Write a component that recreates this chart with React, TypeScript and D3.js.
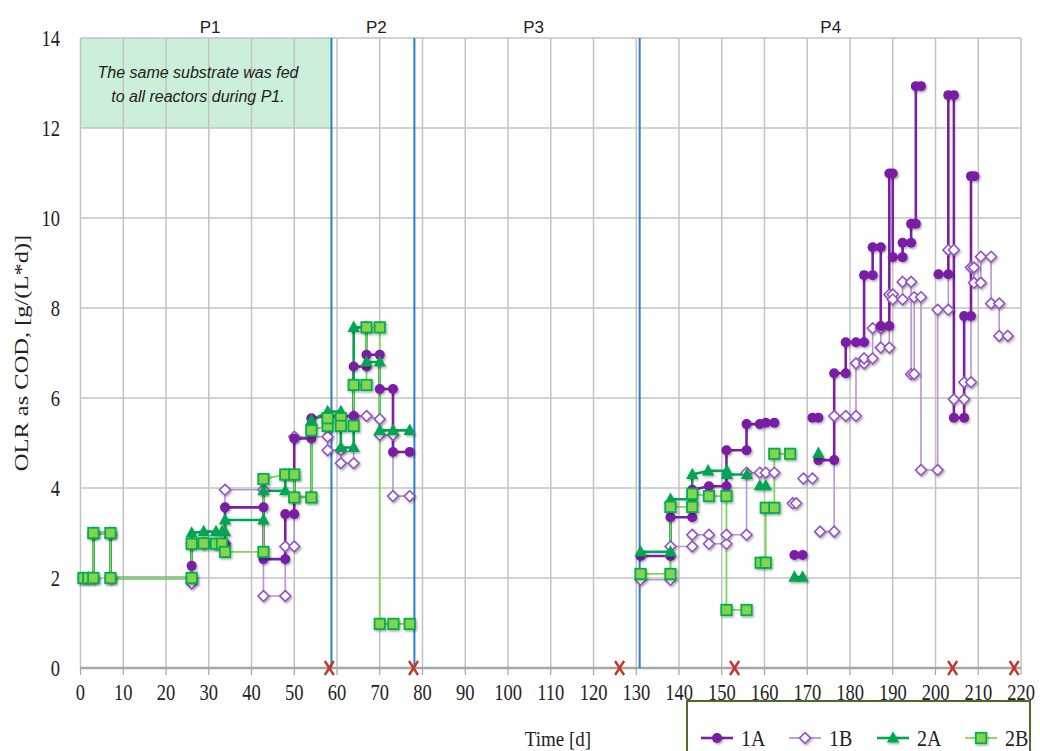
import React from 'react';
import * as d3 from 'd3';

type P = [number, number] | null;

const xTicks: number[] = [0, 10, 20, 30, 40, 50, 60, 70, 80, 90, 100, 110, 120, 130, 140, 150, 160, 170, 180, 190, 200, 210, 220];
const yTicks: number[] = [0, 2, 4, 6, 8, 10, 12, 14];

const periodBounds: number[] = [58.7, 78.1, 130.8];
const periodLabels: string[] = ['P1', 'P2', 'P3', 'P4'];
const periodLabelDays: number[] = [30.3, 69.2, 106, 175.5];
const failDays: number[] = [58.2, 77.9, 126.1, 153, 204, 218.4];

const s1A: P[] = [
  [0.7, 2], [1.8, 2], [3, 2], [3, 3], [7, 3], [7, 2], [26, 2], [26, 2.27], [26, 2.77], [28.8, 2.77], [31.7, 2.76], [33.1, 2.76],
  [33.8, 2.76], [33.8, 3.57], [42.8, 3.57], [42.8, 2.42], [47.9, 2.42], [47.9, 3.42], [50, 3.42], [50, 5.1], [54, 5.1],
  [54, 5.55], [57.8, 5.6], [60.9, 5.6], [63.9, 5.6], [63.9, 6.7], [66.9, 6.7], [66.9, 6.96], [70, 6.96], [70, 6.2],
  [73.1, 6.2], [73.1, 4.8], [77, 4.8], null,
  [131, 2.49], [138, 2.49], [138, 3.35], [143.1, 3.35], [143.1, 3.96], [147, 4.04], [151.1, 4.04], [151.1, 4.84],
  [155.8, 4.84], [155.8, 5.42], [158.9, 5.42], [160.3, 5.45], [162.3, 5.45], null,
  [167, 2.51], [168.9, 2.51], null,
  [171.2, 5.56], [172.6, 5.56], null,
  [172.6, 4.62], [176.3, 4.62], [176.3, 6.55], [179, 6.55], [179, 7.24], [181.4, 7.24], [183.3, 7.24], [183.3, 8.73],
  [185.3, 8.73], [185.3, 9.35], [187.2, 9.35], [187.2, 7.6], [189.2, 7.6], [189.2, 10.99], [190, 10.99], [190, 9.13],
  [192.3, 9.13], [192.3, 9.45], [194.3, 9.45], [194.3, 9.87], [195.4, 9.87], [195.4, 12.93], [196.6, 12.93], null,
  [200.7, 8.75], [203, 8.75], [203, 12.73], [204.3, 12.73], [204.3, 5.56], [206.7, 5.56], [206.7, 7.82], [208.3, 7.82],
  [208.3, 10.93], [209.1, 10.93],
];

const s1B: P[] = [
  [0.7, 2], [1.8, 2], [3, 2], [3, 3], [7, 3], [7, 2], [26, 2], [26, 1.88], [26, 2.77], [28.8, 2.77], [31.7, 2.76], [33.1, 2.76],
  [33.8, 2.76], [33.8, 3.96], [42.8, 3.96], [42.8, 1.6], [47.9, 1.6], [47.9, 2.7], [50, 2.7], [50, 5.14], [57.8, 5.14],
  [57.8, 4.84], [60.9, 4.84], [60.9, 4.55], [63.9, 4.55], [63.9, 5.6], [66.9, 5.6], [70, 5.53], [70, 5.18], [73.1, 5.18],
  [73.1, 3.82], [77, 3.82], null,
  [131, 1.96], [138, 1.96], [138, 2.7], [143.1, 2.7], [143.1, 2.96], [147, 2.96], [147, 2.76], [151.1, 2.76], [151.1, 2.96],
  [155.8, 2.96], [155.8, 4.34], [158.9, 4.34], [160.3, 4.34], [162.3, 4.34], null,
  [166.6, 3.66], [167.4, 3.66], null,
  [169.1, 4.21], [171.2, 4.21], null,
  [173, 3.03], [176.3, 3.03], [176.3, 5.6], [179, 5.6], [181.4, 5.6], [181.4, 6.77], [183.3, 6.77], [183.3, 6.88],
  [185.3, 6.88], [185.3, 7.55], [187.2, 7.55], [187.2, 7.12], [189.2, 7.12], [189.2, 8.3], [190, 8.3], [190, 8.19],
  [192.3, 8.19], [192.3, 8.58], [194.3, 8.58], [194.3, 6.53], [195, 6.53], [195, 8.24], [196.6, 8.24], [196.6, 4.4],
  [200.5, 4.4], [200.5, 7.96], [203, 7.96], [203, 9.29], [204.3, 9.29], [204.3, 5.97], [206.7, 5.97], [206.7, 6.35],
  [208.3, 6.35], [208.3, 8.9], [209, 8.9], [209, 8.56], [210.6, 8.56], [210.6, 9.14], [213, 9.14], [213, 8.1],
  [214.9, 8.1], [214.9, 7.38], [216.9, 7.38],
];

const s2A: P[] = [
  [0.7, 2], [1.8, 2], [3, 2], [3, 3], [7, 3], [7, 2], [26, 2], [26, 3.0], [28.8, 3.03], [31.7, 3.03], [33.1, 3.03],
  [33.8, 3.03], [33.8, 3.29], [42.8, 3.29], [42.8, 3.94], [47.9, 3.94], [47.9, 4.3], [50, 4.3], [50, 3.8], [54, 3.8],
  [54, 5.5], [57.8, 5.7], [60.9, 5.7], [60.9, 4.9], [63.9, 4.9], [63.9, 7.57], [66.9, 7.57], [66.9, 6.8], [70, 6.8],
  [70, 5.28], [73.1, 5.28], [77, 5.28], null,
  [131, 2.58], [138, 2.58], [138, 3.75], [143.1, 3.75], [143.1, 4.3], [146.8, 4.38], [151.2, 4.38], [151.2, 4.3],
  [155.9, 4.3], null,
  [158.9, 4.05], [160.3, 4.05], null,
  [167, 2.02], [168.9, 2.02], null,
  [172.6, 4.77],
];

const s2B: P[] = [
  [0.7, 2], [1.8, 2], [3, 2], [3, 3], [7, 3], [7, 2], [26, 2], [26, 2.76], [28.8, 2.77], [31.7, 2.76], [33.1, 2.76],
  [33.8, 2.58], [42.8, 2.58], [42.8, 4.2], [47.9, 4.3], [50, 4.3], [50, 3.79], [54, 3.79], [54, 5.28], [57.8, 5.38],
  [57.8, 5.55], [60.9, 5.55], [60.9, 5.38], [63.9, 5.38], [63.9, 6.29], [66.9, 6.29], [66.9, 7.57], [70, 7.57],
  [70, 0.98], [73.2, 0.98], [77, 0.98], null,
  [131, 2.09], [138, 2.09], [138, 3.58], [143.1, 3.58], [143.1, 3.87], [147, 3.82], [151.1, 3.82], [151.1, 1.29],
  [155.8, 1.29], null,
  [159.1, 2.34], [160.3, 2.34], [160.3, 3.56], [162.3, 3.56], [162.3, 4.76], [166, 4.76],
];

const seriesNames: string[] = ['1A', '1B', '2A', '2B'];

const C1A = '#7a1fa6';
const C1B_LINE = '#b994da';
const C1B_MARK = '#9452c4';
const C2A = '#00a651';
const C2B_LINE = '#7fd957';
const C2B_FILL = '#86d34f';
const C2B_STROKE = '#00b050';

function Marker({ kind, cx, cy }: { kind: string; cx: number; cy: number }) {
  if (kind === '1A') return <circle cx={cx} cy={cy} r={5} fill={C1A} />;
  if (kind === '1B')
    return (
      <path
        d={`M${cx},${cy - 5.4}L${cx + 5.4},${cy}L${cx},${cy + 5.4}L${cx - 5.4},${cy}Z`}
        fill="#fff"
        stroke={C1B_MARK}
        strokeWidth={1.6}
      />
    );
  if (kind === '2A')
    return <path d={`M${cx},${cy - 6.8}L${cx + 6.2},${cy + 4.6}L${cx - 6.2},${cy + 4.6}Z`} fill={C2A} />;
  return <rect x={cx - 5.2} y={cy - 5.2} width={10.4} height={10.4} fill={C2B_FILL} stroke={C2B_STROKE} strokeWidth={1.8} />;
}

export default function App() {
  const W = 1040;
  const H = 751;
  const x = d3.scaleLinear().domain([0, 220]).range([80.5, 1021]);
  const y = d3.scaleLinear().domain([0, 14]).range([668, 38]);
  const line = d3
    .line<P>()
    .defined((d) => d !== null)
    .x((d) => x((d as [number, number])[0]))
    .y((d) => y((d as [number, number])[1]));

  const serif = '"Liberation Serif", "Times New Roman", serif';
  const sans = '"Liberation Sans", Arial, sans-serif';

  const seriesDefs = [
    { name: '1B', data: s1B, color: C1B_LINE, width: 1.6 },
    { name: '1A', data: s1A, color: C1A, width: 2.6 },
    { name: '2A', data: s2A, color: C2A, width: 2.6 },
    { name: '2B', data: s2B, color: C2B_LINE, width: 1.8 },
  ];

  const legendX = [701, 789, 877, 965];
  const noteX = x(periodBounds[0] / 2) - 8;

  return (
    <svg width={W} height={H} style={{ position: 'absolute', left: 0, top: 0, background: '#fff' }}>
      <defs>
        <filter id="sh" x="-50%" y="-50%" width="200%" height="200%">
          <feDropShadow dx={1.2} dy={1.5} stdDeviation={1.1} floodColor="#000" floodOpacity={0.35} />
        </filter>
      </defs>
      <rect width={W} height={H} fill="#fff" />
      {/* note box */}
      <rect x={x(0)} y={y(14)} width={x(periodBounds[0]) - x(0)} height={y(12) - y(14)} fill="#cbefd8" />
      {/* grid */}
      {xTicks.map((t) => (
        <line key={'gx' + t} x1={x(t)} x2={x(t)} y1={y(14)} y2={y(0)} stroke="#c3c3c3" strokeWidth={1.5} />
      ))}
      {yTicks.map((t) => (
        <line key={'gy' + t} x1={x(0)} x2={x(220)} y1={y(t)} y2={y(t)} stroke="#c3c3c3" strokeWidth={1.5} />
      ))}
      {/* x axis */}
      <line x1={x(0)} x2={x(220)} y1={y(0)} y2={y(0)} stroke="#a6a6a6" strokeWidth={2.5} />
      {xTicks.map((t) => (
        <line key={'tk' + t} x1={x(t)} x2={x(t)} y1={y(0)} y2={y(0) + 7} stroke="#a6a6a6" strokeWidth={1.2} />
      ))}
      {xTicks.map((t) => (
        <text
          key={'xl' + t}
          transform={`translate(${x(t)},700) scale(1,1.28)`}
          textAnchor="middle"
          fontFamily={serif}
          fontSize={18.5}
          fill="#222"
        >
          {t}
        </text>
      ))}
      {yTicks.map((t) => (
        <text
          key={'yl' + t}
          transform={`translate(60,${y(t) + 8}) scale(1,1.28)`}
          textAnchor="end"
          fontFamily={serif}
          fontSize={18.5}
          fill="#222"
        >
          {t}
        </text>
      ))}
      <text
        transform={`translate(28,${y(7)}) rotate(-90) scale(1.36,1)`}
        textAnchor="middle"
        fontFamily={serif}
        fontSize={18}
        fill="#222"
      >
        OLR as COD, [g/(L*d)]
      </text>
      <text transform="translate(558,746) scale(1,1.15)" textAnchor="middle" fontFamily={serif} fontSize={19} fill="#222">
        Time [d]
      </text>
      {/* note text */}
      <text x={noteX} y={78} textAnchor="middle" fontFamily={sans} fontStyle="italic" fontSize={16} fill="#222">
        The same substrate was fed
      </text>
      <text x={noteX} y={102} textAnchor="middle" fontFamily={sans} fontStyle="italic" fontSize={16} fill="#222">
        to all reactors during P1.
      </text>
      {/* period boundaries */}
      {periodBounds.map((d) => (
        <line key={'pb' + d} x1={x(d)} x2={x(d)} y1={y(14)} y2={y(0)} stroke="#2a7fc9" strokeWidth={2} />
      ))}
      {periodLabels.map((p, i) => (
        <text key={p} x={x(periodLabelDays[i])} y={33} textAnchor="middle" fontFamily={sans} fontSize={17} fill="#222">
          {p}
        </text>
      ))}
      {/* series lines */}
      {seriesDefs.map((s) => (
        <path key={'l' + s.name} d={line(s.data) || ''} fill="none" stroke={s.color} strokeWidth={s.width} />
      ))}
      {/* markers */}
      {seriesDefs.map((s) => (
        <g key={'m' + s.name} filter="url(#sh)">
          {s.data
            .filter((d): d is [number, number] => d !== null)
            .map((d, i) => (
              <Marker key={i} kind={s.name} cx={x(d[0])} cy={y(d[1])} />
            ))}
        </g>
      ))}
      {/* failure marks */}
      {failDays.map((d) => (
        <g key={'f' + d} stroke="#c0392b" strokeWidth={2.4}>
          <line x1={x(d) - 4.5} x2={x(d) + 4.5} y1={y(0) - 7} y2={y(0) + 7} />
          <line x1={x(d) + 4.5} x2={x(d) - 4.5} y1={y(0) - 7} y2={y(0) + 7} />
        </g>
      ))}
      {/* legend */}
      <rect x={687} y={701} width={343} height={60} fill="#fff" stroke="#4e6b2a" strokeWidth={2} />
      {seriesNames.map((n, i) => {
        const lx = legendX[i];
        const color = n === '1A' ? C1A : n === '1B' ? C1B_LINE : n === '2A' ? C2A : C2B_LINE;
        return (
          <g key={'lg' + n}>
            <line x1={lx} x2={lx + 32} y1={738} y2={738} stroke={color} strokeWidth={n === '1A' || n === '2A' ? 2.6 : 1.8} />
            <g filter="url(#sh)">
              <Marker kind={n} cx={lx + 16} cy={738} />
            </g>
            <text transform={`translate(${lx + 40},746) scale(1,1.15)`} fontFamily={serif} fontSize={20} fill="#222">
              {n}
            </text>
          </g>
        );
      })}
    </svg>
  );
}
